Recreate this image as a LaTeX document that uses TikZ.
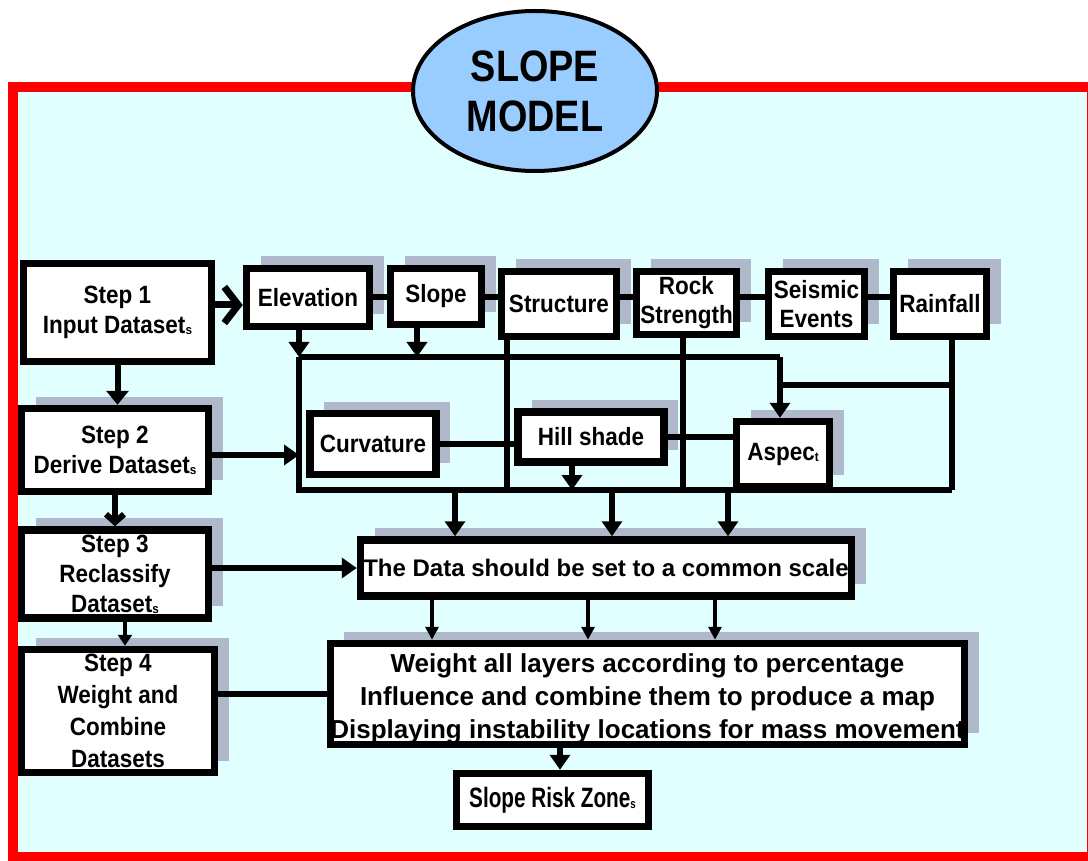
\documentclass[tikz,border=0pt]{standalone}
\usepackage{fontspec}
\setmainfont{Liberation Sans}[FakeStretch=0.9]
\newfontfamily\plainfont{Liberation Sans}
\newfontfamily\titlefont{Liberation Sans}[FakeStretch=0.86]
\newfontfamily\narrowfont{Liberation Sans}[FakeStretch=0.74]
\usetikzlibrary{arrows.meta,shadows,shapes.geometric,calc}
\definecolor{framered}{RGB}{255,0,0}
\definecolor{bgcyan}{RGB}{226,255,255}
\definecolor{ellblue}{RGB}{153,204,255}
\definecolor{shadowgray}{RGB}{176,184,204}
\newcommand{\sm}[1]{\raisebox{-1pt}{\fontsize{13}{13}\selectfont #1}}
\tikzset{
 box/.style={draw, line width=7.5pt, fill=white, align=center, inner sep=0pt,
   font=\bfseries\fontsize{25}{29}\selectfont},
 stepfont/.style={font=\bfseries\fontsize{25}{30}\selectfont},
 shad/.style={drop shadow={shadow xshift=14pt, shadow yshift=12pt, fill=shadowgray, opacity=1}},
 conn/.style={line width=6pt},
 tri/.style={-{Triangle[length=15pt,width=20pt]}},
 smalltri/.style={-{Triangle[length=13pt,width=13pt]}},
 barb/.style={-{Straight Barb[length=14pt,width=36pt]}},
}
\begin{document}
\begin{tikzpicture}[x=1pt,y=-1pt]
\useasboundingbox (0,0) rectangle (1088,861);
\fill[white] (0,0) rectangle (1088,861);
\draw[framered, line width=10pt, fill=bgcyan] (13,87) rectangle (1092,857);

% title
\node[ellipse, draw, line width=4pt, fill=ellblue, minimum width=244pt, minimum height=160pt,
  align=center, font=\titlefont\bfseries\fontsize{44}{50}\selectfont] (title) at (535,91) {SLOPE\\MODEL};

% step boxes
\node[box, stepfont, minimum width=188pt, minimum height=98pt] (s1) at (117.5,312.5) {Step 1\\Input Dataset\sm{s}};
\node[box, shad, stepfont, minimum width=187pt, minimum height=83pt] (s2) at (115,450) {Step 2\\Derive Dataset\sm{s}};
\node[box, shad, stepfont, minimum width=187pt, minimum height=88pt] (s3) at (115,574) {Step 3\\Reclassify\\Dataset\sm{s}};
\node[box, shad, minimum width=193pt, minimum height=123pt, font=\bfseries\fontsize{25}{32}\selectfont] (s4) at (118,711) {Step 4\\Weight and\\Combine\\Datasets};

% input layers
\node[box, shad, minimum width=123pt, minimum height=58pt] (elev) at (308,297.5) {Elevation};
\node[box, shad, minimum width=91pt, minimum height=56pt] (slope) at (436,296.5) {Slope};
\node[box, shad, minimum width=115pt, minimum height=65pt] (struct) at (559,304) {Structure};
\node[box, shad, minimum width=100pt, minimum height=63pt] (rock) at (686.5,303) {Rock\\Strength};
\node[box, shad, minimum width=96pt, minimum height=65pt] (seis) at (816.5,304) {Seismic\\Events};
\node[box, shad, minimum width=93pt, minimum height=65pt] (rain) at (940,304) {Rainfall};

% derived layers
\node[box, shad, minimum width=126pt, minimum height=61pt] (curv) at (373,444) {Curvature};
\node[box, shad, minimum width=146pt, minimum height=50pt] (hill) at (591,437) {Hill shade};
\node[box, shad, minimum width=93pt, minimum height=65pt] (asp) at (783,454) {Aspec\sm{t}};

% processing
\node[box, shad, minimum width=491pt, minimum height=56pt, font=\plainfont\bfseries\fontsize{24}{29}\selectfont] (data) at (606,568) {The Data should be set to a common scale};
\node[box, shad, minimum width=632pt, minimum height=101pt, inner ysep=0pt, text height=94pt, text depth=6pt,
  font=\plainfont\bfseries\fontsize{26}{33}\selectfont] (wt) at (647.5,694)
  {Weight all layers according to percentage\\Influence and combine them to produce a map\\Displaying instability locations for mass movement};
\node[box, minimum width=192pt, minimum height=53pt, font=\narrowfont\bfseries\fontsize{28}{30}\selectfont] (srz) at (552.5,800) {Slope Risk Zone\sm{s}};

% junction coordinates
\coordinate (jI) at (0,305);
\coordinate (jE) at (299,357);
\coordinate (jS) at (417,357);
\coordinate (jA) at (780,357);
\coordinate (jA2) at (780,385);
\coordinate (jR1) at (952,385);
\coordinate (jR2) at (952,490);
\coordinate (jB) at (299,490);
\coordinate (jT) at (507,490);
\coordinate (jK) at (683,490);
\coordinate (jH) at (572,490);
\coordinate (jC) at (299,455);
\coordinate (jD1) at (455,490);
\coordinate (jD2) at (612,490);
\coordinate (jD3) at (728,490);
\coordinate (jL) at (0,297);
\coordinate (cW1) at (432,0);
\coordinate (cW2) at (588,0);
\coordinate (cW3) at (715,0);
\coordinate (cR) at (560,0);
\coordinate (c34) at (125,0);

% step flow
\draw[line width=7pt, barb] (s1.east |- jI) -- (elev.west |- jI);
\draw[conn, -{Triangle[length=14pt,width=22pt]}] (s1.south) -- (s1.south |- s2.north);
\draw[conn, -{Straight Barb[length=8pt,width=18pt]}] (s2.south) -- (s2.south |- s3.north);
\draw[line width=4pt, -{Triangle[length=11pt,width=14pt]}] (s3.south -| c34) -- (s4.north -| c34);
\draw[conn, tri] (s2.east |- jC) -- (jC);
\draw[conn, tri] (s3.east |- data.west) -- (data.west);
\draw[conn] (s4.east |- wt.west) -- (wt.west);

% chain of inputs
\draw[conn] (elev.east |- jL) -- (slope.west |- jL);
\draw[conn] (slope.east |- jL) -- (struct.west |- jL);
\draw[conn] (struct.east |- jL) -- (rock.west |- jL);
\draw[conn] (rock.east |- jL) -- (seis.west |- jL);
\draw[conn] (seis.east |- jL) -- (rain.west |- jL);

% collectors
\draw[conn, tri] (elev.south -| jE) -- (jE);
\draw[conn, tri] (slope.south -| jS) -- (jS);
\draw[conn] (jE) -- (jA);
\draw[conn, tri] (jA) -- (asp.north -| jA);
\draw[conn] (rain.south -| jR1) -- (jR2);
\draw[conn] (jR1) -- (jA2);
\draw[conn] (jE) -- (jB) -- (jR2);
\draw[conn] (struct.south -| jT) -- (jT);
\draw[conn] (rock.south -| jK) -- (jK);
\draw[conn, tri] (hill.south -| jH) -- (jH);
\draw[conn] (curv.east) -- (curv.east -| hill.west);
\draw[conn] (hill.east) -- (hill.east -| asp.west);

% to data
\draw[conn, tri] (jD1) -- (data.north -| jD1);
\draw[conn, tri] (jD2) -- (data.north -| jD2);
\draw[conn, tri] (jD3) -- (data.north -| jD3);

% to weight
\draw[line width=3.5pt, smalltri] (data.south -| cW1) -- (wt.north -| cW1);
\draw[line width=3.5pt, smalltri] (data.south -| cW2) -- (wt.north -| cW2);
\draw[line width=3.5pt, smalltri] (data.south -| cW3) -- (wt.north -| cW3);
\draw[conn, tri] (wt.south -| cR) -- (srz.north -| cR);
\end{tikzpicture}
\end{document}
